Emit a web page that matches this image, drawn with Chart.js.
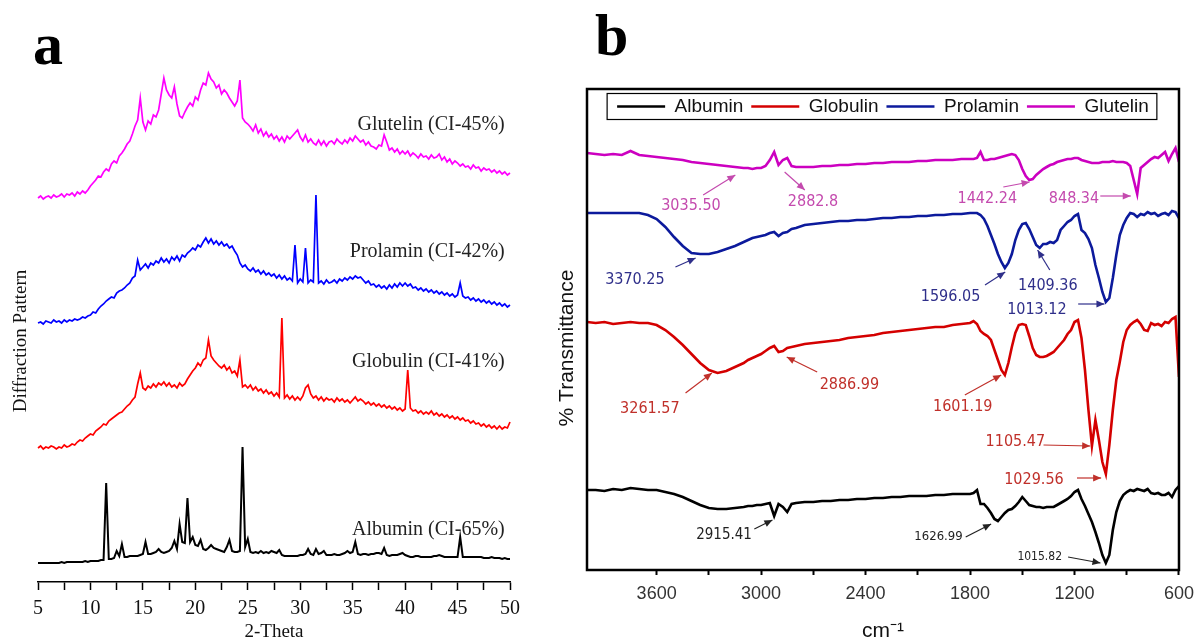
<!DOCTYPE html>
<html>
<head>
<meta charset="utf-8">
<script src="https://cdn.jsdelivr.net/npm/chart.js@4.4.0/dist/chart.umd.min.js"></script>
<style>
  body { margin: 0; background: #fff; width: 1195px; height: 642px; position: relative; overflow: hidden; }
  canvas { position: absolute; top: 0; }
  #xrd { left: 0; }
  #ftir { left: 545px; }
  .tag { position: absolute; font-family: "Liberation Serif", "Times New Roman", serif; font-weight: bold; font-size: 60px; line-height: 1; }
</style>
</head>
<body>
<div class="tag" style="left:33px;top:14px">a</div>
<div class="tag" style="left:595px;top:5px">b</div>
<canvas id="xrd" width="540" height="642"></canvas>
<canvas id="ftir" width="657" height="642"></canvas>
<script>
// ---------- Panel a : XRD ----------
const twoTheta = [
  5, 5.25, 5.5, 5.75, 6, 6.25, 6.5, 6.75, 7, 7.25, 7.5, 7.75, 8, 8.25, 8.5, 8.75, 9, 9.25, 9.5, 9.75,
  10, 10.25, 10.5, 10.75, 11, 11.25, 11.5, 11.75, 12, 12.25, 12.5, 12.75, 13, 13.25, 13.5, 13.75, 14, 14.25, 14.5, 14.75,
  15, 15.25, 15.5, 15.75, 16, 16.25, 16.5, 16.75, 17, 17.25, 17.5, 17.75, 18, 18.25, 18.5, 18.75, 19, 19.25, 19.5, 19.75,
  20, 20.25, 20.5, 20.75, 21, 21.25, 21.5, 21.75, 22, 22.25, 22.5, 22.75, 23, 23.25, 23.5, 23.75, 24, 24.25, 24.5, 24.75,
  25, 25.25, 25.5, 25.75, 26, 26.25, 26.5, 26.75, 27, 27.25, 27.5, 27.75, 28, 28.25, 28.5, 28.75, 29, 29.25, 29.5, 29.75,
  30, 30.25, 30.5, 30.75, 31, 31.25, 31.5, 31.75, 32, 32.25, 32.5, 32.75, 33, 33.25, 33.5, 33.75, 34, 34.25, 34.5, 34.75,
  35, 35.25, 35.5, 35.75, 36, 36.25, 36.5, 36.75, 37, 37.25, 37.5, 37.75, 38, 38.25, 38.5, 38.75, 39, 39.25, 39.5, 39.75,
  40, 40.25, 40.5, 40.75, 41, 41.25, 41.5, 41.75, 42, 42.25, 42.5, 42.75, 43, 43.25, 43.5, 43.75, 44, 44.25, 44.5, 44.75,
  45, 45.25, 45.5, 45.75, 46, 46.25, 46.5, 46.75, 47, 47.25, 47.5, 47.75, 48, 48.25, 48.5, 48.75, 49, 49.25, 49.5, 49.75,
  50
];
// curves are stacked with their own offset (arbitrary intensity units)
const xrdAlbumin = [
  19, 19, 19, 19, 19, 19, 19, 19, 19, 20, 19, 20, 20, 20, 20, 20, 20, 20, 21, 20,
  21, 21, 21, 21, 22, 22, 99, 23, 23, 24, 31, 26, 38, 25, 25, 26, 26, 26, 26, 27,
  28, 40, 28, 28, 29, 30, 33, 30, 29, 30, 31, 34, 41, 33, 58, 40, 39, 84, 40, 45,
  37, 36, 42, 33, 32, 34, 37, 34, 33, 32, 31, 30, 35, 42, 31, 30, 30, 31, 135, 35,
  43, 30, 29, 30, 29, 31, 29, 30, 29, 31, 30, 29, 32, 27, 26, 26, 26, 26, 26, 26,
  27, 27, 28, 33, 28, 27, 33, 28, 29, 31, 27, 27, 27, 28, 27, 27, 28, 29, 31, 29,
  30, 40, 28, 27, 28, 28, 27, 28, 28, 29, 29, 28, 34, 27, 26, 27, 27, 27, 28, 29,
  27, 26, 25, 25, 26, 26, 25, 25, 25, 25, 25, 26, 26, 27, 26, 25, 25, 25, 25, 25,
  25, 45, 25, 25, 25, 25, 25, 25, 25, 25, 24, 24, 24, 25, 24, 24, 24, 23, 24, 23,
  23
];
const xrdGlobulin = [
  134, 136, 133, 135, 134, 136, 135, 133, 135, 134, 137, 135, 136, 138, 137, 140, 142, 141, 144, 146,
  148, 147, 151, 153, 155, 158, 157, 161, 163, 165, 167, 169, 170, 173, 176, 178, 182, 185, 198, 209,
  194, 192, 196, 194, 198, 195, 199, 197, 200, 196, 199, 195, 197, 194, 199, 196, 198, 203, 207, 211,
  214, 219, 216, 222, 224, 242, 226, 222, 219, 216, 214, 217, 212, 215, 209, 211, 206, 222, 195, 197,
  194, 197, 192, 195, 191, 193, 189, 192, 188, 190, 186, 189, 185, 264, 184, 187, 183, 186, 182, 185,
  182, 186, 194, 197, 188, 184, 186, 182, 185, 181, 184, 182, 183, 180, 184, 181, 183, 180, 182, 179,
  182, 185, 181, 183, 181, 178, 180, 177, 179, 176, 178, 175, 177, 174, 176, 173, 175, 172, 174, 171,
  173, 212, 174, 171, 172, 169, 171, 168, 170, 168, 171, 167, 169, 166, 168, 165, 167, 164, 166, 163,
  165, 162, 164, 161, 162, 159, 161, 158, 159, 156, 158, 155, 157, 154, 156, 153, 156, 153, 155, 154,
  160
];
const xrdProlamin = [
  259, 260, 258, 261, 260, 259, 262, 260, 261, 259, 262, 260, 262, 261, 263, 262, 263, 265, 264, 266,
  267, 270, 269, 273, 276, 278, 281, 283, 285, 284, 289, 291, 292, 294, 297, 299, 304, 306, 322, 312,
  315, 318, 314, 319, 317, 321, 319, 324, 320, 323, 319, 325, 322, 326, 321, 327, 325, 329, 331, 334,
  332, 337, 335, 340, 344, 339, 343, 338, 341, 337, 340, 336, 338, 334, 336, 331, 327, 319, 315, 317,
  313, 311, 314, 310, 312, 308, 311, 307, 309, 306, 308, 304, 307, 303, 306, 302, 304, 301, 337, 299,
  303, 300, 334, 299, 302, 300, 387, 299, 301, 298, 302, 299, 300, 302, 299, 303, 301, 304, 302, 305,
  303, 306, 304, 305, 302, 299, 301, 297, 298, 295, 297, 294, 296, 293, 297, 294, 298, 295, 299, 296,
  299, 296, 298, 294, 295, 292, 294, 291, 293, 290, 292, 289, 291, 288, 290, 287, 289, 286, 288, 285,
  287, 299, 286, 284, 285, 282, 284, 281, 283, 280, 282, 279, 281, 278, 280, 277, 279, 276, 278, 275,
  277
];
const xrdGlutelin = [
  384, 386, 383, 385, 386, 384, 387, 385, 386, 388, 385, 388, 387, 389, 386, 390, 388, 391, 389, 392,
  396, 399, 402, 406, 405, 410, 413, 411, 418, 421, 419, 426, 429, 433, 438, 441, 448, 456, 462, 484,
  460, 452, 461, 458, 467, 465, 472, 488, 504, 492, 487, 484, 495, 478, 466, 464, 470, 475, 479, 476,
  485, 482, 492, 499, 497, 509, 503, 500, 494, 497, 488, 492, 489, 484, 480, 476, 481, 502, 464, 460,
  458, 455, 451, 457, 449, 453, 446, 450, 445, 448, 443, 446, 441, 445, 440, 446, 443, 446, 449, 452,
  445, 441, 447, 440, 443, 439, 437, 442, 437, 441, 436, 440, 441, 438, 443, 440, 438, 442, 439, 444,
  441, 446, 443, 440, 442, 437, 440, 436, 435, 433, 437, 436, 447, 440, 432, 434, 430, 433, 428, 431,
  428, 431, 426, 429, 427, 424, 428, 425, 426, 423, 427, 424, 425, 428, 422, 425, 420, 423, 418, 421,
  419, 416, 418, 415, 416, 413, 417, 414, 415, 411, 414, 412, 413, 410, 412, 409, 411, 408, 410, 407,
  409
];
const xrdNames = [
  { text: 'Glutelin (CI-45%)', at: [49.5, 457] },
  { text: 'Prolamin (CI-42%)', at: [49.5, 330] },
  { text: 'Globulin (CI-41%)', at: [49.5, 220] },
  { text: 'Albumin (CI-65%)', at: [49.5, 52] }
];

// ---------- Panel b : FTIR ----------
const wavenumbers = [
  4000, 3950, 3900, 3850, 3800, 3750, 3700, 3650, 3600, 3550, 3500, 3450, 3400, 3350, 3300, 3250, 3200, 3150, 3100,
  3075, 3050, 3025, 3000, 2975, 2950, 2925, 2900, 2875, 2850, 2825, 2800,
  2750, 2700, 2650, 2600, 2550, 2500, 2450, 2400, 2350, 2300, 2250, 2200, 2150, 2100, 2050, 2000, 1950, 1900, 1850, 1800,
  1780, 1760, 1740, 1720, 1700, 1680, 1660, 1640, 1620, 1600, 1580, 1560, 1540, 1520, 1500, 1480, 1460, 1440, 1420, 1400,
  1380, 1360, 1340, 1320, 1300, 1280, 1260, 1240, 1220, 1200, 1180, 1160, 1140, 1120, 1100, 1080, 1060, 1040, 1020, 1000,
  980, 960, 940, 920, 900, 880, 860, 840, 820, 800, 780, 760, 740, 720, 700, 680, 660, 640, 620, 600
];
const irAlbumin = [
  80, 80, 79, 81, 80, 82, 81, 80, 80, 78, 76, 73, 69, 65, 62, 61, 61, 62, 63,
  64, 64, 65, 65, 66, 67, 54, 66, 63, 58, 66, 67,
  68, 68, 69, 69, 70, 70, 71, 71, 72, 72, 73, 73, 74, 74, 74, 75, 75, 76, 76, 76,
  77, 80, 66, 66, 62, 57, 51, 49, 53, 57, 60, 61, 64, 68, 73, 69, 65, 64, 63, 63,
  62, 63, 63, 63, 65, 67, 69, 71, 74, 78, 80, 71, 64, 56, 48, 38, 27, 15, 7, 15,
  40, 58, 69, 75, 78, 80, 79, 81, 80, 79, 81, 77, 76, 77, 75, 75, 77, 73, 80, 84
];
const irGlobulin = [
  248, 247, 248, 246, 247, 248, 247, 247, 245, 240, 233, 225, 216, 207, 200, 197, 199, 203, 207,
  210, 212, 214, 216, 219, 222, 224, 218, 219, 222, 223, 224,
  226, 227, 228, 229, 230, 232, 233, 234, 235, 237, 238, 239, 240, 241, 242, 243, 243, 245, 246, 247,
  249, 246, 239, 236, 234, 230, 220, 210, 200, 195, 207, 223, 237, 245, 246, 245, 234, 222, 215, 213,
  213, 214, 216, 218, 222, 226, 230, 236, 240, 248, 250, 232, 200, 160, 124, 150, 130, 108, 96, 125,
  160, 190, 208, 228, 240, 245, 248, 250, 246, 240, 239, 247, 245, 246, 244, 248, 247, 251, 253, 193
];
const irProlamin = [
  357, 357, 357, 357, 357, 357, 357, 355, 351, 343, 333, 324, 317, 316, 316, 318, 321, 324, 328,
  330, 332, 333, 334, 335, 337, 338, 334, 337, 338, 341, 342,
  345, 346, 347, 348, 349, 349, 350, 350, 351, 352, 352, 353, 353, 354, 354, 355, 355, 356, 356, 357,
  357, 357, 355, 351, 344, 335, 326, 316, 308, 302, 307, 316, 330, 340, 346, 347, 341, 333, 325, 322,
  326, 326, 328, 327, 330, 340, 344, 348, 350, 354, 356, 340, 337, 331, 322, 305, 292, 278, 268, 272,
  292, 315, 335, 345, 352, 357, 356, 353, 356, 355, 358, 356, 357, 354, 356, 357, 355, 359, 358, 352
];
const irGlutelin = [
  417, 416, 415, 416, 415, 419, 415, 414, 413, 412, 411, 410, 408, 407, 406, 405, 404, 403, 402,
  402, 401, 402, 402, 404, 410, 418, 405, 410, 412, 404, 403,
  403, 403, 404, 404, 405, 405, 406, 406, 407, 407, 408, 408, 408, 409, 409, 410, 410, 410, 411, 411,
  411, 412, 418, 410, 410, 411, 411, 412, 413, 414, 415, 416, 415, 410, 401, 394, 390, 391, 395, 398,
  401, 403, 405, 406, 408, 409, 410, 411, 411, 412, 412, 410, 409, 408, 407, 407, 407, 408, 408, 408,
  409, 408, 408, 408, 407, 404, 390, 376, 402, 405, 408, 411, 413, 412, 415, 418, 409, 416, 422, 408
];
const irNames = ['Albumin', 'Globulin', 'Prolamin', 'Glutelin'];
const irColors = ['#000000', '#d40000', '#0c1a9c', '#cc00c0'];

const ftirNotes = [
  { text: '3035.50', color: '#c44aae', size: 16, at: [3403, 364], from: [3333, 375], to: [3148, 395] },
  { text: '2882.8', color: '#c44aae', size: 16, at: [2702, 368], from: [2865, 398], to: [2749, 380] },
  { text: '1442.24', color: '#c44aae', size: 16, at: [1701, 371], from: [1609, 383], to: [1458, 388] },
  { text: '848.34', color: '#c44aae', size: 16, at: [1203, 371], from: [1052, 374], to: [877, 374] },
  { text: '3370.25', color: '#2f2f8a', size: 16, at: [3725, 290], from: [3492, 303], to: [3376, 312] },
  { text: '1596.05', color: '#2f2f8a', size: 16, at: [1912, 273], from: [1714, 285], to: [1598, 298] },
  { text: '1409.36', color: '#2f2f8a', size: 16, at: [1353, 284], from: [1342, 300], to: [1412, 320] },
  { text: '1013.12', color: '#2f2f8a', size: 16, at: [1416, 260], from: [1179, 266], to: [1028, 266] },
  { text: '2886.99', color: '#c0302a', size: 16, at: [2493, 185], from: [2678, 198], to: [2853, 213] },
  { text: '3261.57', color: '#c0302a', size: 16, at: [3639, 161], from: [3434, 177], to: [3283, 197] },
  { text: '1601.19', color: '#c0302a', size: 16, at: [1842, 163], from: [1830, 175], to: [1621, 195] },
  { text: '1105.47', color: '#c0302a', size: 16, at: [1540, 128], from: [1378, 125], to: [1110, 124] },
  { text: '1029.56', color: '#c0302a', size: 16, at: [1433, 90], from: [1186, 92], to: [1047, 92] },
  { text: '2915.41', color: '#222222', size: 15, at: [3213, 35], from: [3039, 41], to: [2935, 50] },
  { text: '1626.99', color: '#222222', size: 13, at: [1981, 33], from: [1825, 33], to: [1679, 46] },
  { text: '1015.82', color: '#222222', size: 12, at: [1400, 13], from: [1237, 13], to: [1051, 7] }
];

const serif = '"Liberation Serif", "Times New Roman", serif';
const sans = '"Liberation Sans", Arial, sans-serif';
const narrow = '"Liberation Sans Narrow", "DejaVu Sans Condensed", Arial, sans-serif';

const toPoints = (xs, ys) => xs.map((x, i) => ({ x: x, y: ys[i] }));

// text labels next to each XRD curve
const curveNames = {
  id: 'curveNames',
  afterDatasetsDraw(chart) {
    const { ctx, scales: { x, y } } = chart;
    ctx.save();
    ctx.font = '20px ' + serif;
    ctx.fillStyle = '#222';
    ctx.textAlign = 'right';
    ctx.textBaseline = 'middle';
    xrdNames.forEach(n => ctx.fillText(n.text, x.getPixelForValue(n.at[0]), y.getPixelForValue(n.at[1])));
    ctx.restore();
  }
};

new Chart(document.getElementById('xrd'), {
  type: 'line',
  data: {
    datasets: [
      { label: 'Albumin', data: toPoints(twoTheta, xrdAlbumin), borderColor: '#000', borderWidth: 2 },
      { label: 'Globulin', data: toPoints(twoTheta, xrdGlobulin), borderColor: '#ff0000', borderWidth: 1.7 },
      { label: 'Prolamin', data: toPoints(twoTheta, xrdProlamin), borderColor: '#0000ff', borderWidth: 1.7 },
      { label: 'Glutelin', data: toPoints(twoTheta, xrdGlutelin), borderColor: '#ff00ff', borderWidth: 1.7 }
    ]
  },
  options: {
    responsive: false,
    animation: false,
    clip: false,
    layout: { padding: { left: 0, right: 30, top: 100, bottom: 0 } },
    elements: { point: { radius: 0 }, line: { tension: 0 } },
    plugins: { legend: { display: false }, tooltip: { enabled: false } },
    scales: {
      x: {
        type: 'linear', min: 5, max: 50,
        ticks: { stepSize: 2.5, autoSkip: false, maxRotation: 0, padding: 7, color: '#111',
                 font: { family: serif, size: 20 }, callback: v => (v % 5 === 0 ? v : '') },
        grid: { drawOnChartArea: false, tickLength: 8, tickColor: '#000', tickWidth: 1.5 },
        border: { color: '#000', width: 1.5 },
        title: { display: true, text: '2-Theta', color: '#111', padding: { top: 0, bottom: 0 },
                 font: { family: serif, size: 19, lineHeight: 1 } },
        afterFit: s => { s.height = 60; }
      },
      y: {
        min: 0, max: 482,
        ticks: { display: false },
        grid: { display: false },
        border: { display: false },
        title: { display: true, text: 'Diffraction Pattern', color: '#111', padding: { top: 10, bottom: 0 },
                 font: { family: serif, size: 19 } },
        afterFit: s => { s.width = 38; }
      }
    }
  },
  plugins: [curveNames]
});

// frame and legend box of the FTIR panel
const ftirFrame = {
  id: 'ftirFrame',
  afterDraw(chart) {
    const { ctx, chartArea: a, legend } = chart;
    const top = legend.top;
    ctx.save();
    ctx.strokeStyle = '#000';
    ctx.lineWidth = 2.5;
    ctx.strokeRect(a.left, top, a.right - a.left, a.bottom - top);
    const boxes = legend.legendHitBoxes;
    const first = boxes[0], last = boxes[boxes.length - 1];
    const cy = first.top + first.height / 2;
    ctx.lineWidth = 1.2;
    ctx.strokeRect(first.left - 10, cy - 13, last.left + last.width + 8 - (first.left - 10), 26);
    ctx.restore();
  }
};

// peak labels with arrows
const arrowNotes = {
  id: 'arrowNotes',
  afterDatasetsDraw(chart) {
    const { ctx, scales: { x, y } } = chart;
    ctx.save();
    ctx.textAlign = 'center';
    ctx.textBaseline = 'middle';
    ftirNotes.forEach(n => {
      ctx.fillStyle = n.color;
      ctx.strokeStyle = n.color;
      ctx.font = n.size + 'px ' + narrow;
      ctx.fillText(n.text, x.getPixelForValue(n.at[0]), y.getPixelForValue(n.at[1]));
      const x0 = x.getPixelForValue(n.from[0]), y0 = y.getPixelForValue(n.from[1]);
      const x1 = x.getPixelForValue(n.to[0]), y1 = y.getPixelForValue(n.to[1]);
      ctx.lineWidth = 1.2;
      ctx.beginPath(); ctx.moveTo(x0, y0); ctx.lineTo(x1, y1); ctx.stroke();
      const t = Math.atan2(y1 - y0, x1 - x0);
      ctx.beginPath();
      ctx.moveTo(x1, y1);
      ctx.lineTo(x1 - 8 * Math.cos(t) + 3.5 * Math.sin(t), y1 - 8 * Math.sin(t) - 3.5 * Math.cos(t));
      ctx.lineTo(x1 - 8 * Math.cos(t) - 3.5 * Math.sin(t), y1 - 8 * Math.sin(t) + 3.5 * Math.cos(t));
      ctx.closePath();
      ctx.fill();
    });
    ctx.restore();
  }
};

const irSeries = [irAlbumin, irGlobulin, irProlamin, irGlutelin];

new Chart(document.getElementById('ftir'), {
  type: 'line',
  data: {
    datasets: irSeries.map((ys, i) => ({
      label: irNames[i], data: toPoints(wavenumbers, ys),
      borderColor: irColors[i], backgroundColor: irColors[i], borderWidth: 2.6
    }))
  },
  options: {
    responsive: false,
    animation: false,
    layout: { padding: { left: 0, right: 9, top: 89, bottom: 0 } },
    elements: { point: { radius: 0 }, line: { tension: 0 } },
    plugins: {
      tooltip: { enabled: false },
      legend: {
        position: 'top', fullSize: false,
        labels: { usePointStyle: true, pointStyle: 'line', pointStyleWidth: 48, padding: 8,
                  color: '#111', font: { family: sans, size: 19 } }
      }
    },
    scales: {
      x: {
        type: 'linear', reverse: true, min: 600, max: 4000,
        afterBuildTicks: s => { s.ticks = s.ticks.filter(t => t.value % 300 === 0); },
        ticks: { stepSize: 300, autoSkip: false, maxRotation: 0, padding: 8, color: '#333',
                 font: { family: sans, size: 18 }, callback: v => (v % 600 === 0 ? v : '') },
        grid: { drawOnChartArea: false, tickLength: 5, tickColor: '#000', tickWidth: 2 },
        border: { display: false },
        title: { display: true, text: 'cm⁻¹', color: '#111', padding: { top: 0, bottom: 0 },
                 font: { family: sans, size: 21, lineHeight: 1 } },
        afterFit: s => { s.height = 72; }
      },
      y: {
        min: 0, max: 444,
        ticks: { display: false },
        grid: { display: false },
        border: { display: false },
        title: { display: true, text: '% Transmittance', color: '#111', padding: { top: 10, bottom: 0 },
                 font: { family: sans, size: 21 } },
        afterFit: s => { s.width = 42; }
      }
    }
  },
  plugins: [arrowNotes, ftirFrame]
});
</script>
</body>
</html>
